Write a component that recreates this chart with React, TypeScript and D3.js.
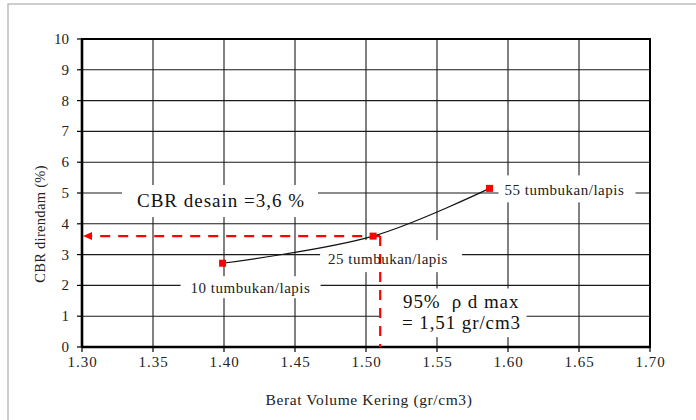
import React from "react";
import * as d3 from "d3";

// ---- data ----
const densities = [1.399, 1.505, 1.587];
const cbrValues = [2.72, 3.6, 5.15];
const pointLabels = ["10 tumbukan/lapis", "25 tumbukan/lapis", "55 tumbukan/lapis"];
const xTicks = [1.3, 1.35, 1.4, 1.45, 1.5, 1.55, 1.6, 1.65, 1.7];
const yTicks = [0, 1, 2, 3, 4, 5, 6, 7, 8, 9, 10];
const designDensity = 1.51;
const designCBR = 3.6;

const W = 696;
const H = 420;
const FF = { fontFamily: "'Liberation Serif', serif" };

export default function App() {
  const x = d3.scaleLinear().domain([1.3, 1.7]).range([82, 650]);
  const y = d3.scaleLinear().domain([0, 10]).range([347, 39]);
  const [x0, x1] = x.range();
  const [y0, y1] = y.range();

  const pts = densities.map((d, i) => [x(d), y(cbrValues[i])] as [number, number]);
  const line = d3.line().curve(d3.curveCatmullRom.alpha(0.5))(pts) || "";

  const labelCfg = [
    { tx: x(densities[0]) - 32, ty: y(cbrValues[0]) + 30, box: [x(densities[0]) - 42, y(cbrValues[0]) + 13, 140, 22] },
    { tx: x(densities[1]) - 45, ty: y(cbrValues[1]) + 28, box: [x(densities[1]) - 53, y(cbrValues[1]) + 4, 142, 32] },
    { tx: x(densities[2]) + 15, ty: y(cbrValues[2]) + 7, box: [x(densities[2]) + 9, y(cbrValues[2]) - 13, 137, 27] },
  ];

  const xd = x(designDensity);
  const yd = y(designCBR);

  return (
    <svg width={W} height={H} style={{ position: "absolute", left: 0, top: 0, background: "#fff" }}>
      <rect x={8} y={4} width={W} height={H} fill="#fff" stroke="#bdbdbd" strokeWidth={1.5} />
      {yTicks.map((t) => (
        <line key={"gy" + t} x1={x0} x2={x1} y1={y(t)} y2={y(t)} stroke="#1a1a1a" strokeWidth={1.1} />
      ))}
      {xTicks.map((t) => (
        <line key={"gx" + t} x1={x(t)} x2={x(t)} y1={y0} y2={y1} stroke="#1a1a1a" strokeWidth={1.1} />
      ))}
      <rect x={x(1.3282)} y={y(5.26)} width={x(1.4662) - x(1.3282)} height={y(4.22) - y(5.26)} fill="#fff" />
      <rect x={x(1.5096)} y={y(1.9)} width={x(1.6131) - x(1.5096)} height={y(0.32) - y(1.9)} fill="#fff" />
      {labelCfg.map((l, i) => (
        <rect key={"lb" + i} x={l.box[0]} y={l.box[1]} width={l.box[2]} height={l.box[3]} fill="#fff" />
      ))}
      <rect x={x0} y={y1} width={x1 - x0} height={y0 - y1} fill="none" stroke="#000" strokeWidth={2} />
      <line x1={x0} x2={x0} y1={y0} y2={y1} stroke="#000" strokeWidth={2.6} />
      <line x1={x0} x2={x1} y1={y0} y2={y0} stroke="#000" strokeWidth={2.6} />
      {yTicks.map((t) => (
        <g key={"ty" + t}>
          <line x1={x0 - 5} x2={x0} y1={y(t)} y2={y(t)} stroke="#000" strokeWidth={1.2} />
          <text x={69} y={y(t) + 5} fontSize={15} textAnchor="end" fill="#222" style={FF}>{t}</text>
        </g>
      ))}
      {xTicks.map((t) => (
        <g key={"tx" + t}>
          <line x1={x(t)} x2={x(t)} y1={y0} y2={y0 + 5} stroke="#000" strokeWidth={1.2} />
          <text x={x(t) + 0.5} y={y0 + 20} fontSize={15} textAnchor="middle" fill="#222" letterSpacing={1} style={FF}>{t.toFixed(2)}</text>
        </g>
      ))}
      <text x={369} y={405} fontSize={15.5} textAnchor="middle" fill="#222" letterSpacing={0.6} style={FF}>Berat Volume Kering (gr/cm3)</text>
      <text transform={`translate(45,224) rotate(-90)`} fontSize={14.5} textAnchor="middle" fill="#222" letterSpacing={0.3} style={FF}>CBR direndam (%)</text>
      <line x1={xd} x2={x0 + 9} y1={yd} y2={yd} stroke="#ff0000" strokeWidth={2.2} strokeDasharray="10 8" />
      <line x1={xd} x2={xd} y1={yd} y2={y0} stroke="#ff0000" strokeWidth={2.2} strokeDasharray="10 8" />
      <path d={`M${x0 + 1},${yd} L${x0 + 10},${yd - 4} L${x0 + 10},${yd + 4} Z`} fill="#ff0000" />
      <path d={line} fill="none" stroke="#111" strokeWidth={1.2} />
      {pts.map((p, i) => (
        <rect key={"m" + i} x={p[0] - 3.5} y={p[1] - 3.5} width={7} height={7} fill="#ff0000" />
      ))}
      {labelCfg.map((l, i) => (
        <text key={"lt" + i} x={l.tx} y={l.ty} fontSize={15} fill="#222" letterSpacing={0.5} style={FF}>{pointLabels[i]}</text>
      ))}
      <text x={137} y={206.5} fontSize={19} fill="#111" letterSpacing={1} style={FF}>CBR desain =3,6 %</text>
      <text x={403} y={308} fontSize={19} fill="#111" letterSpacing={0.9} style={{ ...FF, whiteSpace: "pre" }}>95%  ρ d max</text>
      <text x={402} y={329} fontSize={19} fill="#111" letterSpacing={0.9} style={FF}>= 1,51 gr/cm3</text>
    </svg>
  );
}
